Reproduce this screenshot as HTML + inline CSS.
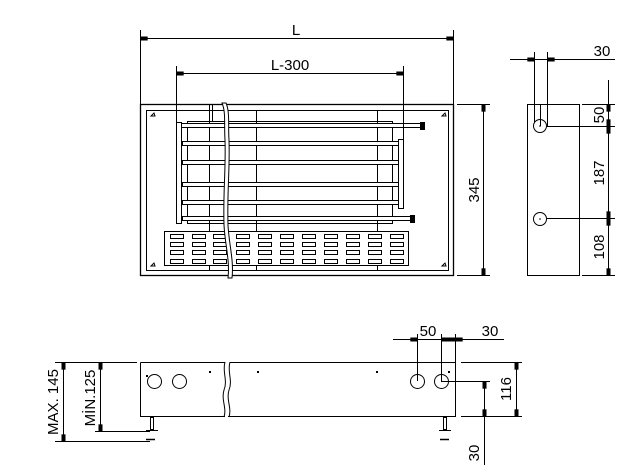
<!DOCTYPE html>
<html><head><style>
html,body{margin:0;padding:0;background:#fff;}
svg{display:block;font-family:"Liberation Sans",sans-serif;}
</style></head><body>
<svg width="636" height="470" viewBox="0 0 636 470" xmlns="http://www.w3.org/2000/svg">
<defs>
<marker id="a" viewBox="0 0 10 6" refX="10" refY="3" markerWidth="8" markerHeight="4" orient="auto-start-reverse" markerUnits="userSpaceOnUse"><path d="M0,0 L10,0 L10,6 L0,6z" fill="#000"/></marker>
</defs>
<g stroke="#000" stroke-width="1" fill="none">
<!-- TOP VIEW -->
<rect x="140.5" y="104.5" width="313" height="171" stroke-width="1.3"/>
<rect x="146.5" y="110.5" width="302" height="160"/>
<rect x="187.5" y="121.5" width="205" height="102"/>
<line x1="209.5" y1="104" x2="209.5" y2="270"/>
<line x1="212.5" y1="104" x2="212.5" y2="121"/>
<line x1="256.5" y1="110" x2="256.5" y2="270"/>
<line x1="377.5" y1="110" x2="377.5" y2="270"/>
<g fill="#fff">
<rect x="180.5" y="123.5" width="240" height="4"/>
<rect x="182.5" y="141.5" width="216" height="4"/>
<rect x="182.5" y="160.5" width="216" height="4"/>
<rect x="182.5" y="182.5" width="216" height="4"/>
<rect x="182.5" y="200.5" width="216" height="4"/>
<rect x="182.5" y="216.5" width="228" height="4"/>
<rect x="176.5" y="122.5" width="5" height="101"/>
<rect x="398.5" y="139.5" width="5" height="69"/>
<rect x="420.5" y="122.5" width="4" height="7" fill="#000"/>
<rect x="410.5" y="215.5" width="4" height="7" fill="#000"/>
</g>
<rect x="164.5" y="231.5" width="244" height="34" fill="#fff"/>
<g>
<rect x="170.5" y="234.5" width="13" height="4"/><rect x="192.5" y="234.5" width="13" height="4"/><rect x="213.5" y="234.5" width="13" height="4"/><rect x="236.5" y="234.5" width="13" height="4"/><rect x="258.5" y="234.5" width="13" height="4"/><rect x="280.5" y="234.5" width="13" height="4"/><rect x="302.5" y="234.5" width="13" height="4"/><rect x="324.5" y="234.5" width="13" height="4"/><rect x="346.5" y="234.5" width="13" height="4"/><rect x="368.5" y="234.5" width="13" height="4"/><rect x="390.5" y="234.5" width="13" height="4"/>
<rect x="170.5" y="242.5" width="13" height="4"/><rect x="192.5" y="242.5" width="13" height="4"/><rect x="213.5" y="242.5" width="13" height="4"/><rect x="236.5" y="242.5" width="13" height="4"/><rect x="258.5" y="242.5" width="13" height="4"/><rect x="280.5" y="242.5" width="13" height="4"/><rect x="302.5" y="242.5" width="13" height="4"/><rect x="324.5" y="242.5" width="13" height="4"/><rect x="346.5" y="242.5" width="13" height="4"/><rect x="368.5" y="242.5" width="13" height="4"/><rect x="390.5" y="242.5" width="13" height="4"/>
<rect x="170.5" y="250.5" width="13" height="4"/><rect x="192.5" y="250.5" width="13" height="4"/><rect x="213.5" y="250.5" width="13" height="4"/><rect x="236.5" y="250.5" width="13" height="4"/><rect x="258.5" y="250.5" width="13" height="4"/><rect x="280.5" y="250.5" width="13" height="4"/><rect x="302.5" y="250.5" width="13" height="4"/><rect x="324.5" y="250.5" width="13" height="4"/><rect x="346.5" y="250.5" width="13" height="4"/><rect x="368.5" y="250.5" width="13" height="4"/><rect x="390.5" y="250.5" width="13" height="4"/>
<rect x="170.5" y="259.5" width="13" height="4"/><rect x="192.5" y="259.5" width="13" height="4"/><rect x="213.5" y="259.5" width="13" height="4"/><rect x="236.5" y="259.5" width="13" height="4"/><rect x="258.5" y="259.5" width="13" height="4"/><rect x="280.5" y="259.5" width="13" height="4"/><rect x="302.5" y="259.5" width="13" height="4"/><rect x="324.5" y="259.5" width="13" height="4"/><rect x="346.5" y="259.5" width="13" height="4"/><rect x="368.5" y="259.5" width="13" height="4"/><rect x="390.5" y="259.5" width="13" height="4"/>
</g>
<!-- break -->
<path d="M222,103 C226,112 224,125 225,140 C226,170 223,190 224,225 C225,245 230,260 228,278 L232,278 C234,260 229,245 228,225 C227,190 230,170 229,140 C228,125 230,112 226,103 Z" fill="#fff"/>
<path d="M151,116 l3,-3 l1,3z M442,116 l3,-3 l1,3z M151,266 l3,-3 l1,3z M442,266 l3,-3 l1,3z"/>
<!-- dims top -->
<line x1="140.5" y1="30" x2="140.5" y2="104"/>
<line x1="453.5" y1="30" x2="453.5" y2="104"/>
<line x1="141" y1="38.5" x2="453" y2="38.5" marker-start="url(#a)" marker-end="url(#a)"/>
<line x1="176.5" y1="66" x2="176.5" y2="123"/>
<line x1="403.5" y1="66" x2="403.5" y2="140"/>
<line x1="177" y1="73.5" x2="403" y2="73.5" marker-start="url(#a)" marker-end="url(#a)"/>
<line x1="457" y1="104.5" x2="490" y2="104.5"/>
<line x1="457" y1="275.5" x2="490" y2="275.5"/>
<line x1="483.5" y1="105" x2="483.5" y2="275" marker-start="url(#a)" marker-end="url(#a)"/>
<!-- SIDE VIEW -->
<rect x="527.5" y="104.5" width="52" height="171"/>
<circle cx="540" cy="126" r="6.5"/>
<circle cx="540" cy="219" r="6.5"/>
<line x1="540.5" y1="104" x2="540.5" y2="126"/>
<line x1="534.5" y1="52" x2="534.5" y2="122"/>
<line x1="547.5" y1="52" x2="547.5" y2="126"/>
<line x1="510" y1="59.5" x2="615" y2="59.5"/>
<line x1="522" y1="59.5" x2="534" y2="59.5" marker-end="url(#a)"/>
<line x1="560" y1="59.5" x2="548" y2="59.5" marker-end="url(#a)"/>
<line x1="547" y1="126.5" x2="615" y2="126.5"/>
<line x1="547" y1="218.5" x2="615" y2="218.5"/>
<line x1="582" y1="104.5" x2="615" y2="104.5"/>
<line x1="582" y1="275.5" x2="615" y2="275.5"/>
<line x1="608.5" y1="80" x2="608.5" y2="276"/>
<line x1="608.5" y1="105" x2="608.5" y2="126" marker-start="url(#a)" marker-end="url(#a)"/>
<line x1="608.5" y1="127" x2="608.5" y2="218" marker-start="url(#a)" marker-end="url(#a)"/>
<line x1="608.5" y1="219" x2="608.5" y2="275" marker-start="url(#a)" marker-end="url(#a)"/>
<!-- BOTTOM FRONT VIEW -->
<path d="M140.5,362.5 H225 M140.5,362.5 V416.5 H225"/>
<path d="M230,362.5 H455.5 V416.5 H228"/>
<path d="M225,362 C222,372 228,380 224,390 C221,400 227,408 224,417"/>
<path d="M230,362 C227,372 233,380 229,390 C226,400 232,408 229,417"/>
<circle cx="154.5" cy="381.5" r="7"/>
<circle cx="179.5" cy="381.5" r="7"/>
<circle cx="417.5" cy="381.5" r="7"/>
<circle cx="441.5" cy="381.5" r="7"/>
<rect x="150.5" y="417.5" width="3" height="12"/>
<line x1="146" y1="430.5" x2="158" y2="430.5"/>
<rect x="443.5" y="417.5" width="3" height="12"/>
<line x1="439" y1="430.5" x2="451" y2="430.5"/>
<line x1="146" y1="439.5" x2="155" y2="439.5" stroke-width="1.5"/>
<line x1="440" y1="439.5" x2="449" y2="439.5" stroke-width="1.5"/>
<line x1="55" y1="362.5" x2="137" y2="362.5"/>
<line x1="55" y1="441.5" x2="150" y2="441.5"/>
<line x1="95" y1="431.5" x2="150" y2="431.5"/>
<line x1="63.5" y1="363" x2="63.5" y2="441" marker-start="url(#a)" marker-end="url(#a)"/>
<line x1="100.5" y1="363" x2="100.5" y2="431" marker-start="url(#a)" marker-end="url(#a)"/>
<line x1="461" y1="362.5" x2="522" y2="362.5"/>
<line x1="461" y1="416.5" x2="522" y2="416.5"/>
<line x1="516.5" y1="363" x2="516.5" y2="416" marker-start="url(#a)" marker-end="url(#a)"/>
<line x1="441" y1="381.5" x2="490" y2="381.5"/>
<line x1="484.5" y1="382" x2="484.5" y2="465"/>
<line x1="484.5" y1="382" x2="484.5" y2="416" marker-start="url(#a)" marker-end="url(#a)"/>
<line x1="417.5" y1="334" x2="417.5" y2="381"/>
<line x1="441.5" y1="334" x2="441.5" y2="381"/>
<line x1="455.5" y1="334" x2="455.5" y2="362"/>
<line x1="393" y1="339.5" x2="504" y2="339.5"/>
<line x1="405" y1="339.5" x2="417" y2="339.5" marker-end="url(#a)"/>
<line x1="442" y1="339.5" x2="455" y2="339.5" marker-start="url(#a)" marker-end="url(#a)"/>
<line x1="468" y1="339.5" x2="456" y2="339.5" marker-end="url(#a)"/>
</g>
<g fill="#000">
<rect x="146" y="375" width="2" height="2"/><rect x="209" y="371" width="2" height="2"/><rect x="257" y="371" width="2" height="2"/><rect x="376" y="371" width="2" height="2"/><rect x="448" y="371" width="2" height="2"/>
<circle cx="540" cy="126" r="0.8"/><circle cx="540" cy="219" r="0.8"/>
</g>
<g font-size="15" fill="#000">
<text x="296" y="35" text-anchor="middle">L</text>
<text x="290" y="70" text-anchor="middle">L-300</text>
<text x="602" y="56" text-anchor="middle">30</text>
<text transform="translate(479,190) rotate(-90)" text-anchor="middle">345</text>
<text transform="translate(604,115) rotate(-90)" text-anchor="middle">50</text>
<text transform="translate(604,173) rotate(-90)" text-anchor="middle">187</text>
<text transform="translate(604,247) rotate(-90)" text-anchor="middle">108</text>
<text x="428" y="336" text-anchor="middle">50</text>
<text x="490" y="336" text-anchor="middle">30</text>
<text transform="translate(58,402) rotate(-90)" text-anchor="middle">MAX. 145</text>
<text transform="translate(95,398) rotate(-90)" text-anchor="middle">MİN.125</text>
<text transform="translate(511,389) rotate(-90)" text-anchor="middle">116</text>
<text transform="translate(479,453) rotate(-90)" text-anchor="middle">30</text>
</g>
</svg>
</body></html>
